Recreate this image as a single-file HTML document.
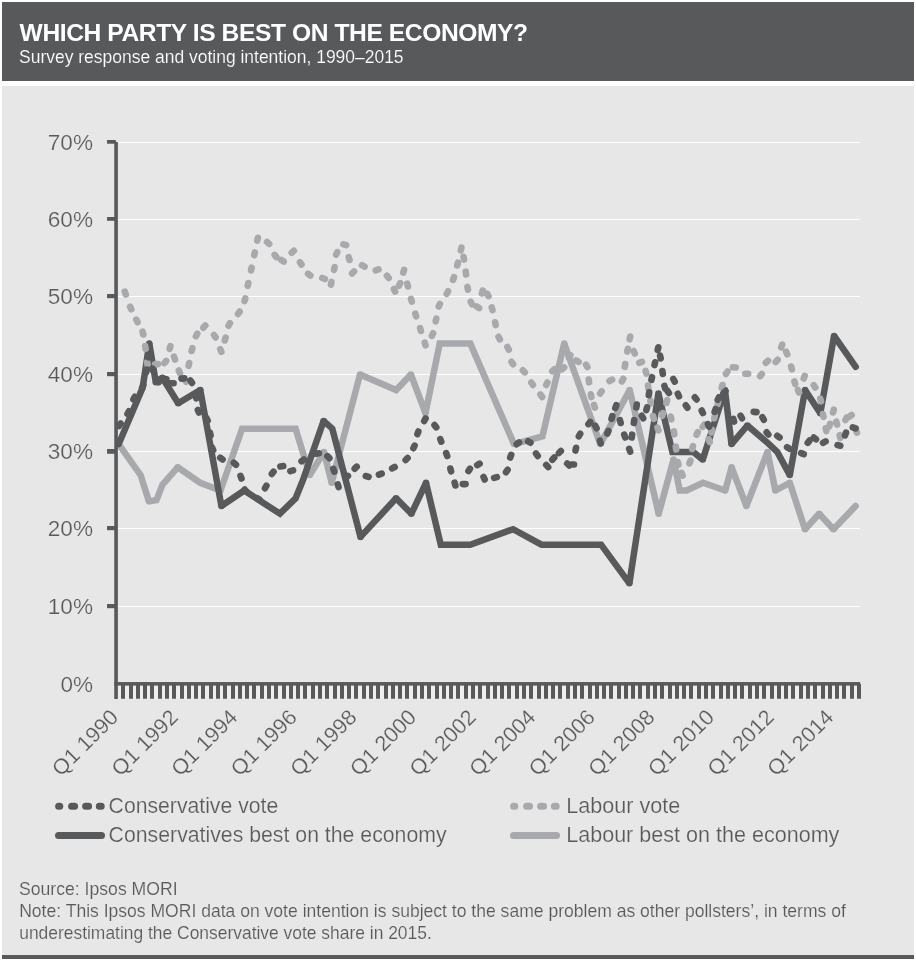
<!DOCTYPE html>
<html lang="en"><head><meta charset="utf-8"><title>Which party is best on the economy?</title>
<style>
html,body{margin:0;padding:0;background:#fff}
body{width:916px;height:961px;position:relative;overflow:hidden;font-family:"Liberation Sans",Arial,Helvetica,sans-serif}
.hd{position:absolute;left:2px;top:2px;width:912px;height:78.5px;background:#58595b}
.pn{position:absolute;left:2px;top:86px;width:912px;height:869px;background:#e7e7e7}
.bar{position:absolute;left:2px;top:955px;width:912px;height:3.8px;background:#58595b}
svg text{font-family:"Liberation Sans",Arial,Helvetica,sans-serif;fill:#58595b;stroke:#e7e7e7;stroke-width:0.22px}
svg text.w{fill:#fff;stroke:#58595b}
svg text.b{font-weight:bold;stroke:none}
svg text.sm{stroke-width:0.15px}
</style></head><body>
<div class="hd"></div>
<div class="pn"></div>
<div class="bar"></div>
<svg width="916" height="961" viewBox="0 0 916 961" style="position:absolute;left:0;top:0">
<rect x="117.9" y="606" width="742.1" height="1" fill="#fff"/>
<rect x="117.9" y="528" width="742.1" height="1" fill="#fff"/>
<rect x="117.9" y="451" width="742.1" height="1" fill="#fff"/>
<rect x="117.9" y="374" width="742.1" height="1" fill="#fff"/>
<rect x="117.9" y="296" width="742.1" height="1" fill="#fff"/>
<rect x="117.9" y="219" width="742.1" height="1" fill="#fff"/>
<rect x="117.9" y="142" width="742.1" height="1" fill="#fff"/>
<path d="M118.7 444.1 L140.6 475.1 L148.9 501.2 L156.5 500.1 L162.4 484.8 L177.7 467.3 L200.2 482.8 L220.5 490.5 L242.1 428.7 L295.6 428.7 L309.8 475.1 L324.0 451.9 L331.7 482.8 L360.0 374.5 L396.1 390.0 L410.9 374.5 L425.5 413.2 L439.7 343.6 L470.3 343.6 L514.0 444.1 L542.4 436.4 L564.2 343.6 L600.3 444.1 L629.7 390.0 L658.7 513.7 L673.5 459.6 L679.7 490.5 L686.6 490.5 L703.0 482.8 L725.2 490.5 L731.6 467.3 L746.4 506.0 L767.5 451.9 L775.4 490.5 L789.8 482.8 L805.0 529.2 L819.2 513.7 L833.5 529.2 L855.6 506.0" fill="none" stroke="#a7a9ac" stroke-width="6.5" stroke-linejoin="miter" stroke-miterlimit="1.3" stroke-linecap="round"/><path d="M148.9 501.2h0M177.7 467.3h0M220.5 490.5h0M309.8 475.1h0M324.0 451.9h0M331.7 482.8h0M360.0 374.5h0M410.9 374.5h0M425.5 413.2h0M514.0 444.1h0M564.2 343.6h0M600.3 444.1h0M629.7 390.0h0M658.7 513.7h0M673.5 459.6h0M725.2 490.5h0M731.6 467.3h0M746.4 506.0h0M767.5 451.9h0M775.4 490.5h0M789.8 482.8h0M805.0 529.2h0M819.2 513.7h0M833.5 529.2h0" fill="none" stroke="#a7a9ac" stroke-width="6.5" stroke-linecap="round"/>
<path d="M118.7 444.1 L142.7 387.6 L149.3 343.6 L155.8 382.3 L162.4 377.8 L178.2 403.2 L200.3 390.0 L221.4 506.0 L244.3 490.5 L279.9 513.7 L295.6 498.3 L303.0 480.0 L323.6 420.9 L332.3 428.7 L360.5 536.9 L396.1 498.3 L411.4 513.7 L426.0 482.8 L440.8 544.7 L470.2 544.7 L513.1 529.2 L541.5 544.7 L601.1 544.7 L629.4 583.3 L658.4 393.6 L672.4 451.9 L693.2 451.9 L702.8 459.6 L724.9 390.0 L731.5 444.1 L747.4 425.5 L769.0 444.1 L777.3 451.9 L789.8 475.1 L805.1 390.0 L820.3 413.2 L834.1 335.9 L855.7 366.8" fill="none" stroke="#58595b" stroke-width="6.5" stroke-linejoin="miter" stroke-miterlimit="1.3" stroke-linecap="round"/><path d="M149.3 343.6h0M155.8 382.3h0M162.4 377.8h0M178.2 403.2h0M200.3 390.0h0M221.4 506.0h0M323.6 420.9h0M360.5 536.9h0M396.1 498.3h0M411.4 513.7h0M426.0 482.8h0M629.4 583.3h0M658.4 393.6h0M702.8 459.6h0M724.9 390.0h0M731.5 444.1h0M747.4 425.5h0M789.8 475.1h0M805.1 390.0h0M820.3 413.2h0M834.1 335.9h0" fill="none" stroke="#58595b" stroke-width="6.5" stroke-linecap="round"/>
<path d="M124.8 291.7L125.8 294.5M130.1 306.7L131.3 309.3M136.3 319.6L137.5 322.2M142.5 331.7L143.3 334.5M145.2 346.1L145.6 348.9M147.2 362.2L147.6 365.0M155.1 364.3L157.9 364.1M164.4 363.1L166.2 360.9M169.6 348.9L170.4 346.1M174.0 356.7L175.0 359.5M178.8 370.5L180.0 373.1M184.5 379.3L186.1 381.7M188.6 365.8L189.2 363.0M191.6 351.0L192.4 348.2M195.9 336.2L197.3 333.6M203.3 327.7L205.3 325.5M214.0 335.0L215.6 337.4M220.2 349.2L221.4 351.8M224.8 340.5L225.6 337.7M228.5 325.7L229.9 323.1M238.0 314.0L239.6 311.6M244.5 301.1L245.3 298.3M247.7 285.8L248.3 283.0M251.0 270.5L251.6 267.7M254.2 255.2L254.8 252.4M257.3 240.6L257.9 237.8M267.0 241.9L269.2 243.9M274.6 254.9L276.4 257.1M281.3 260.0L283.7 261.6M291.7 252.7L293.9 250.7M299.9 262.2L301.5 264.6M308.0 273.8L310.4 275.4M322.3 278.0L324.9 279.0M330.9 284.7L331.5 281.9M334.0 269.9L334.6 267.1M336.1 254.7L337.3 252.1M343.4 244.3L346.2 245.1M348.7 257.2L349.5 260.0M352.1 273.4L354.1 271.4M362.0 265.2L364.6 266.6M375.7 270.3L378.5 269.3M386.9 275.7L388.7 277.9M393.9 289.0L395.1 291.6M399.0 285.7L400.2 283.1M403.3 272.7L404.1 269.9M407.2 283.7L408.0 286.5M411.0 298.9L411.8 301.7M415.3 313.6L416.1 316.4M420.1 328.2L420.9 331.0M424.7 342.6L425.5 345.4M431.9 335.9L433.1 333.3M435.7 321.4L436.3 318.6M438.7 306.5L439.9 303.9M446.7 293.8L448.1 291.2M453.0 279.9L454.0 277.1M457.2 265.5L458.0 262.7M460.8 250.4L461.4 247.6M463.5 256.8L464.1 259.6M465.7 271.7L466.1 274.5M467.4 286.9L468.0 289.7M470.7 301.7L472.1 304.3M476.7 306.5L479.1 308.1M481.9 293.5L482.7 290.7M487.1 293.7L488.5 296.1M491.7 307.3L492.5 310.1M495.1 322.3L495.7 325.1M498.5 336.8L499.9 339.4M507.4 347.0L508.8 349.6M511.5 361.8L513.1 364.2M522.8 370.3L524.8 372.3M531.3 382.5L532.9 384.9M540.4 394.5L542.2 396.9M546.2 385.0L547.4 382.4M552.2 371.2L554.4 369.2M562.0 369.3L564.2 367.5M569.0 357.7L570.4 355.1M576.0 360.5L578.6 361.9M586.0 364.6L587.4 367.0M588.7 379.5L589.1 382.3M590.8 394.3L591.4 397.1M594.0 404.8L594.8 407.6M600.1 393.6L601.7 391.2M609.5 381.0L612.1 379.6M621.9 381.4L623.3 378.8M624.8 366.8L625.2 364.0M627.2 351.6L627.8 348.8M629.6 339.3L630.2 336.5M633.6 351.0L634.8 353.6M639.2 362.9L642.0 361.9M645.6 370.8L646.4 373.6M648.0 385.5L648.4 388.3M650.4 400.7L650.8 403.5M653.0 416.0L653.8 418.8M657.5 427.7L658.5 430.3M662.3 415.9L663.1 413.1M666.4 403.0L667.2 400.2M670.7 416.6L671.3 419.4M673.9 431.4L674.3 434.2M675.8 446.7L676.2 449.5M677.9 462.0L678.5 464.8M681.6 472.9L682.6 475.7M689.4 463.3L690.4 460.7M692.2 449.0L693.0 446.2M696.6 434.7L697.8 432.1M702.6 426.8L704.4 424.6M708.7 439.2L709.7 442.0M711.5 432.6L712.1 429.8M714.2 418.4L714.8 415.6M717.6 404.2L718.2 401.4M721.7 387.8L722.5 385.0M725.9 373.9L727.5 371.5M732.9 367.3L735.7 367.5M745.3 373.8L748.2 373.8M760.1 376.2L761.9 374.0M765.8 362.7L768.0 360.7M775.7 362.0L777.7 359.8M781.2 347.4L782.2 344.6M786.1 351.7L787.3 354.3M791.1 366.5L791.9 369.3M794.4 381.3L795.2 384.1M797.9 389.9L799.1 392.5M803.7 378.5L804.7 375.9M813.7 385.2L815.3 387.6M820.2 398.6L821.0 401.4M822.9 414.1L823.5 416.9M825.7 428.3L826.3 431.1M829.2 426.4L830.2 423.8M833.0 412.5L833.8 409.7M836.3 421.7L837.1 424.5M839.7 435.2L840.3 438.0M845.4 420.0L846.8 417.4M849.3 416.7L851.7 415.1M855.9 429.8L856.9 432.6" fill="none" stroke="#a7a9ac" stroke-width="6.6" stroke-linecap="round"/>
<path d="M119.0 425.9L120.6 423.5M127.5 413.9L128.9 411.3M133.4 399.4L134.8 396.8M142.1 387.8L143.3 385.2M146.2 372.4L146.8 369.6M148.8 357.4L149.2 354.6M152.5 368.6L153.5 371.4M157.4 379.7L158.6 382.3M163.6 378.8L166.4 379.2M170.8 383.2L173.6 383.2M181.5 378.6L184.3 378.4M190.4 380.5L192.0 382.9M195.7 395.6L196.3 398.4M197.8 409.9L199.0 412.5M206.3 417.9L207.7 420.5M210.0 432.6L210.6 435.4M212.0 447.5L213.2 450.1M220.2 457.8L222.6 459.4M233.8 462.7L236.0 464.7M240.5 475.9L241.5 478.5M244.7 489.5L246.5 491.7M257.3 498.2L259.7 499.8M265.0 488.3L266.4 485.7M271.8 473.9L273.6 471.7M280.4 466.5L283.2 466.1M290.3 471.1L293.1 470.3M301.5 461.2L303.9 459.6M316.1 453.7L318.9 453.3M327.4 456.2L329.4 458.2M333.3 468.9L334.3 471.7M337.8 484.4L338.6 487.2M345.9 477.9L347.9 475.9M354.7 468.7L356.7 466.7M365.8 476.0L368.6 476.8M378.9 474.7L381.7 473.7M392.1 468.4L394.7 467.0M405.6 460.0L407.6 458.0M413.4 448.2L414.6 445.6M417.4 434.1L418.4 431.5M424.2 421.0L425.6 418.4M434.5 425.1L436.3 427.3M440.3 439.1L441.3 441.7M446.2 453.2L447.2 456.0M450.3 468.5L451.1 471.3M454.6 482.7L455.4 485.5M462.8 484.1L465.6 484.1M468.4 471.1L470.0 468.7M477.2 465.1L479.6 463.7M483.5 476.9L484.7 479.5M494.1 477.9L496.9 477.1M506.0 472.2L507.6 469.8M510.2 457.5L511.2 454.9M516.7 444.2L519.1 442.4M528.1 441.3L530.5 442.7M536.0 453.5L537.8 455.9M546.2 464.9L548.2 467.1M552.3 459.7L554.3 457.5M558.9 453.0L560.9 451.0M567.2 463.5L569.2 465.5M571.0 464.5L574.0 464.5M575.5 450.6L576.1 447.8M578.8 436.3L580.2 433.7M588.4 424.1L590.2 421.9M595.2 425.6L596.6 428.2M599.9 440.6L600.7 443.4M607.3 433.5L608.5 430.9M611.5 418.9L612.3 416.1M615.3 408.0L616.3 405.2M619.9 420.2L620.7 423.0M624.2 434.7L625.2 437.5M629.2 448.9L630.2 451.7M631.7 437.5L632.1 434.7M633.8 423.0L634.2 420.2M636.4 407.4L636.8 404.6M641.8 415.7L643.2 418.3M646.3 410.1L647.1 407.3M648.8 395.1L649.2 392.3M651.4 380.0L652.0 377.2M654.5 365.1L655.1 362.3M657.7 350.1L658.3 347.3M660.1 355.7L660.7 358.5M662.4 371.1L662.8 373.9M664.4 385.8L665.2 388.6M667.3 390.6L668.9 393.0M673.3 379.0L674.7 381.6M677.8 393.7L679.0 396.3M685.8 405.3L687.4 407.7M694.8 397.3L696.6 399.5M701.7 410.5L702.9 413.1M707.9 424.1L709.1 426.7M714.6 411.8L715.6 409.0M717.7 399.7L719.1 397.1M723.5 393.0L725.5 391.0M733.3 418.9L734.1 421.7M740.6 415.7L742.0 418.3M753.7 411.9L756.5 412.1M762.4 417.2L763.8 419.8M766.6 432.3L768.4 434.5M777.2 435.8L779.6 437.4M787.1 447.2L789.5 448.8M801.1 453.2L803.7 454.2M807.7 442.8L809.5 440.6M813.8 437.5L816.0 439.3M823.0 442.8L825.6 441.4M837.5 445.1L840.3 445.7M845.0 435.4L846.0 432.6M852.8 427.4L855.6 428.4" fill="none" stroke="#58595b" stroke-width="6.6" stroke-linecap="round"/>
<rect x="114.25" y="142" width="3.62" height="557" fill="#58595b"/>
<rect x="114.25" y="682.05" width="746" height="3.7" fill="#58595b"/>
<rect x="107.05" y="604" width="8.75" height="4.2" fill="#58595b"/>
<rect x="107.05" y="526" width="8.75" height="4.2" fill="#58595b"/>
<rect x="107.05" y="449" width="8.75" height="4.8" fill="#58595b"/>
<rect x="107.05" y="372" width="8.75" height="4.2" fill="#58595b"/>
<rect x="107.05" y="294" width="8.75" height="4.2" fill="#58595b"/>
<rect x="107.05" y="217" width="8.75" height="3.8" fill="#58595b"/>
<rect x="107.05" y="140" width="8.75" height="3.72" fill="#58595b"/>
<rect x="118" y="685.8" width="741" height="13" fill="#eeeeef"/>
<path d="M121 684h4v14.85h-4zM129 684h4v14.85h-4zM136 684h4v14.85h-4zM143 684h4v14.85h-4zM150 684h4v14.85h-4zM158 684h4v14.85h-4zM165 684h4v14.85h-4zM172 684h4v14.85h-4zM180 684h4v14.85h-4zM187 684h4v14.85h-4zM194 684h4v14.85h-4zM201 684h4v14.85h-4zM209 684h4v14.85h-4zM216 684h4v14.85h-4zM223 684h4v14.85h-4zM231 684h4v14.85h-4zM238 684h4v14.85h-4zM245 684h4v14.85h-4zM252 684h4v14.85h-4zM260 684h4v14.85h-4zM267 684h4v14.85h-4zM274 684h4v14.85h-4zM282 684h4v14.85h-4zM289 684h4v14.85h-4zM296 684h4v14.85h-4zM303 684h4v14.85h-4zM311 684h4v14.85h-4zM318 684h4v14.85h-4zM325 684h4v14.85h-4zM333 684h4v14.85h-4zM340 684h4v14.85h-4zM347 684h4v14.85h-4zM354 684h4v14.85h-4zM362 684h4v14.85h-4zM369 684h4v14.85h-4zM376 684h4v14.85h-4zM384 684h4v14.85h-4zM391 684h4v14.85h-4zM398 684h4v14.85h-4zM405 684h4v14.85h-4zM413 684h4v14.85h-4zM420 684h4v14.85h-4zM427 684h4v14.85h-4zM435 684h4v14.85h-4zM442 684h4v14.85h-4zM449 684h4v14.85h-4zM456 684h4v14.85h-4zM464 684h4v14.85h-4zM471 684h4v14.85h-4zM478 684h4v14.85h-4zM486 684h4v14.85h-4zM493 684h4v14.85h-4zM500 684h4v14.85h-4zM507 684h4v14.85h-4zM515 684h4v14.85h-4zM522 684h4v14.85h-4zM529 684h4v14.85h-4zM537 684h4v14.85h-4zM544 684h4v14.85h-4zM551 684h4v14.85h-4zM558 684h4v14.85h-4zM566 684h4v14.85h-4zM573 684h4v14.85h-4zM580 684h4v14.85h-4zM588 684h4v14.85h-4zM595 684h4v14.85h-4zM602 684h4v14.85h-4zM609 684h4v14.85h-4zM617 684h4v14.85h-4zM624 684h4v14.85h-4zM631 684h4v14.85h-4zM638 684h4v14.85h-4zM646 684h4v14.85h-4zM653 684h4v14.85h-4zM660 684h4v14.85h-4zM668 684h4v14.85h-4zM675 684h4v14.85h-4zM682 684h4v14.85h-4zM689 684h4v14.85h-4zM697 684h4v14.85h-4zM704 684h4v14.85h-4zM711 684h4v14.85h-4zM719 684h4v14.85h-4zM726 684h4v14.85h-4zM733 684h4v14.85h-4zM740 684h4v14.85h-4zM748 684h4v14.85h-4zM755 684h4v14.85h-4zM762 684h4v14.85h-4zM770 684h4v14.85h-4zM777 684h4v14.85h-4zM784 684h4v14.85h-4zM791 684h4v14.85h-4zM799 684h4v14.85h-4zM806 684h4v14.85h-4zM813 684h4v14.85h-4zM821 684h4v14.85h-4zM828 684h4v14.85h-4zM835 684h4v14.85h-4zM842 684h4v14.85h-4zM850 684h4v14.85h-4zM857 684h4v14.85h-4z" fill="#58595b"/>
<text x="93.0" y="692.0" font-size="21.5" text-anchor="end" textLength="32.6" lengthAdjust="spacingAndGlyphs">0%</text>
<text x="93.0" y="614.0" font-size="21.5" text-anchor="end" textLength="45.2" lengthAdjust="spacingAndGlyphs">10%</text>
<text x="93.0" y="536.0" font-size="21.5" text-anchor="end" textLength="45.2" lengthAdjust="spacingAndGlyphs">20%</text>
<text x="93.0" y="459.0" font-size="21.5" text-anchor="end" textLength="45.2" lengthAdjust="spacingAndGlyphs">30%</text>
<text x="93.0" y="382.0" font-size="21.5" text-anchor="end" textLength="45.2" lengthAdjust="spacingAndGlyphs">40%</text>
<text x="93.0" y="304.0" font-size="21.5" text-anchor="end" textLength="45.2" lengthAdjust="spacingAndGlyphs">50%</text>
<text x="93.0" y="227.0" font-size="21.5" text-anchor="end" textLength="45.2" lengthAdjust="spacingAndGlyphs">60%</text>
<text x="93.0" y="150.0" font-size="21.5" text-anchor="end" textLength="45.2" lengthAdjust="spacingAndGlyphs">70%</text>
<g transform="translate(119.6 718.4) rotate(-45)"><text x="0" y="0" font-size="21.5" text-anchor="end" textLength="83.3" lengthAdjust="spacingAndGlyphs">Q1 1990</text></g>
<g transform="translate(179.2 718.4) rotate(-45)"><text x="0" y="0" font-size="21.5" text-anchor="end" textLength="83.3" lengthAdjust="spacingAndGlyphs">Q1 1992</text></g>
<g transform="translate(238.8 718.4) rotate(-45)"><text x="0" y="0" font-size="21.5" text-anchor="end" textLength="83.3" lengthAdjust="spacingAndGlyphs">Q1 1994</text></g>
<g transform="translate(298.4 718.4) rotate(-45)"><text x="0" y="0" font-size="21.5" text-anchor="end" textLength="83.3" lengthAdjust="spacingAndGlyphs">Q1 1996</text></g>
<g transform="translate(358.0 718.4) rotate(-45)"><text x="0" y="0" font-size="21.5" text-anchor="end" textLength="83.3" lengthAdjust="spacingAndGlyphs">Q1 1998</text></g>
<g transform="translate(417.6 718.4) rotate(-45)"><text x="0" y="0" font-size="21.5" text-anchor="end" textLength="83.3" lengthAdjust="spacingAndGlyphs">Q1 2000</text></g>
<g transform="translate(477.2 718.4) rotate(-45)"><text x="0" y="0" font-size="21.5" text-anchor="end" textLength="83.3" lengthAdjust="spacingAndGlyphs">Q1 2002</text></g>
<g transform="translate(536.8 718.4) rotate(-45)"><text x="0" y="0" font-size="21.5" text-anchor="end" textLength="83.3" lengthAdjust="spacingAndGlyphs">Q1 2004</text></g>
<g transform="translate(596.4 718.4) rotate(-45)"><text x="0" y="0" font-size="21.5" text-anchor="end" textLength="83.3" lengthAdjust="spacingAndGlyphs">Q1 2006</text></g>
<g transform="translate(656.0 718.4) rotate(-45)"><text x="0" y="0" font-size="21.5" text-anchor="end" textLength="83.3" lengthAdjust="spacingAndGlyphs">Q1 2008</text></g>
<g transform="translate(715.6 718.4) rotate(-45)"><text x="0" y="0" font-size="21.5" text-anchor="end" textLength="83.3" lengthAdjust="spacingAndGlyphs">Q1 2010</text></g>
<g transform="translate(775.2 718.4) rotate(-45)"><text x="0" y="0" font-size="21.5" text-anchor="end" textLength="83.3" lengthAdjust="spacingAndGlyphs">Q1 2012</text></g>
<g transform="translate(834.8 718.4) rotate(-45)"><text x="0" y="0" font-size="21.5" text-anchor="end" textLength="83.3" lengthAdjust="spacingAndGlyphs">Q1 2014</text></g>
<path d="M58.6 806.3h1.2M71.6 806.3h3M85.6 806.3h3M99.3 806.3h1.9" stroke="#58595b" stroke-width="7" stroke-linecap="round"/><text x="108.6" y="812.6" font-size="22.6" text-anchor="start" textLength="169.6" lengthAdjust="spacingAndGlyphs">Conservative vote</text>
<line x1="58.5" x2="101.5" y1="835.5" y2="835.5" stroke="#58595b" stroke-width="7" stroke-linecap="round"/><text x="108.6" y="841.8" font-size="22.6" text-anchor="start" textLength="338.0" lengthAdjust="spacingAndGlyphs">Conservatives best on the economy</text>
<path d="M513.6 806.3h1.2M526.6 806.3h3M540.6 806.3h3M554.3 806.3h1.9" stroke="#a7a9ac" stroke-width="7" stroke-linecap="round"/><text x="566.2" y="812.6" font-size="22.6" text-anchor="start" textLength="114.0" lengthAdjust="spacingAndGlyphs">Labour vote</text>
<line x1="513.5" x2="556.5" y1="835.5" y2="835.5" stroke="#a7a9ac" stroke-width="7" stroke-linecap="round"/><text x="566.2" y="841.8" font-size="22.6" text-anchor="start" textLength="273.2" lengthAdjust="spacingAndGlyphs">Labour best on the economy</text>
<text x="19.6" y="40.8" font-size="24.6" text-anchor="start" textLength="508.5" lengthAdjust="spacing" class="w b">WHICH PARTY IS BEST ON THE ECONOMY?</text>
<text x="19.1" y="62.9" font-size="18" text-anchor="start" textLength="384.5" lengthAdjust="spacingAndGlyphs" class="w sm">Survey response and voting intention, 1990–2015</text>
<text x="19.0" y="894.6" font-size="18.2" text-anchor="start" textLength="158.6" lengthAdjust="spacingAndGlyphs" class="sm">Source: Ipsos MORI</text>
<text x="19.2" y="916.8" font-size="18.2" text-anchor="start" textLength="826.6" lengthAdjust="spacingAndGlyphs" class="sm">Note: This Ipsos MORI data on vote intention is subject to the same problem as other pollsters’, in terms of</text>
<text x="19.2" y="938.9" font-size="18.2" text-anchor="start" textLength="412.6" lengthAdjust="spacingAndGlyphs" class="sm">underestimating the Conservative vote share in 2015.</text>
</svg>
</body></html>
